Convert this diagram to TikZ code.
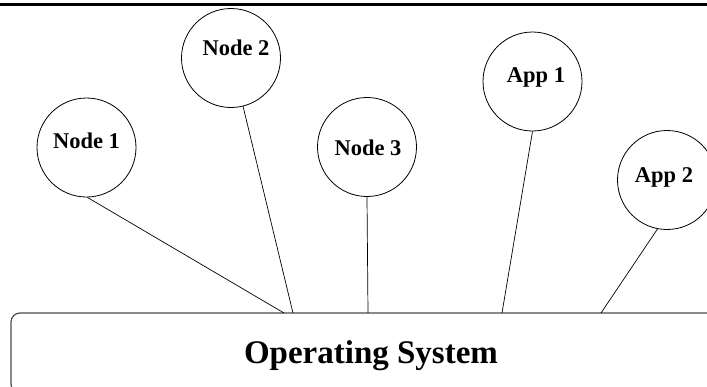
\documentclass[tikz,border=0pt]{standalone}
\usepackage{fontspec}
\setmainfont{Liberation Serif}
\begin{document}
\begin{tikzpicture}[x=1pt,y=-1pt,
  bubble/.style={draw,circle,minimum size=99pt,inner sep=0pt,line width=0.8pt},
  lbl/.style={anchor=base,inner sep=0pt,font=\fontsize{22.5}{26}\selectfont\bfseries},
  link/.style={line width=0.7pt},
  osbox/.style={draw=black!70,line width=1.2pt,rounded corners=9pt}]
\useasboundingbox (0,0) rectangle (707,386);
\clip (0,0) rectangle (707,386);
\draw[line width=2.5pt] (0,4.5) -- (707,4.5);
% OS box
\draw[osbox] (11,313) rectangle (720,393);
\node[anchor=base,inner sep=0pt,font=\fontsize{33}{38}\selectfont\bfseries] (os) at (371,363) {Operating System};
% circles
\node[bubble] (n1) at (86.5,147.5) {};
\node[bubble] (n2) at (231,58) {};
\node[bubble] (n3) at (367,147) {};
\node[bubble] (a1) at (532.5,81.5) {};
\node[bubble] (a2) at (667,180) {};
\node[lbl] (t1) at (86.5,148) {Node 1};
\node[lbl] (t2) at (236,55) {Node 2};
\node[lbl] (t3) at (368,155) {Node 3};
\node[lbl] (t4) at (536,82) {App 1};
\node[lbl] (t5) at (664,182) {App 2};
% attachment points on box top
\coordinate (p1) at (284,313);
\coordinate (p2) at (293,313);
\coordinate (p3) at (368,313);
\coordinate (p4) at (502,313);
\coordinate (p5) at (601,313);
\draw[link] (n1.-89) -- (p1);
\draw[link] (n2.-76) -- (p2);
\draw[link] (n3.south) -- (p3);
\draw[link] (a1.-90) -- (p4);
\draw[link] (a2.-101) -- (p5);
\end{tikzpicture}
\end{document}
